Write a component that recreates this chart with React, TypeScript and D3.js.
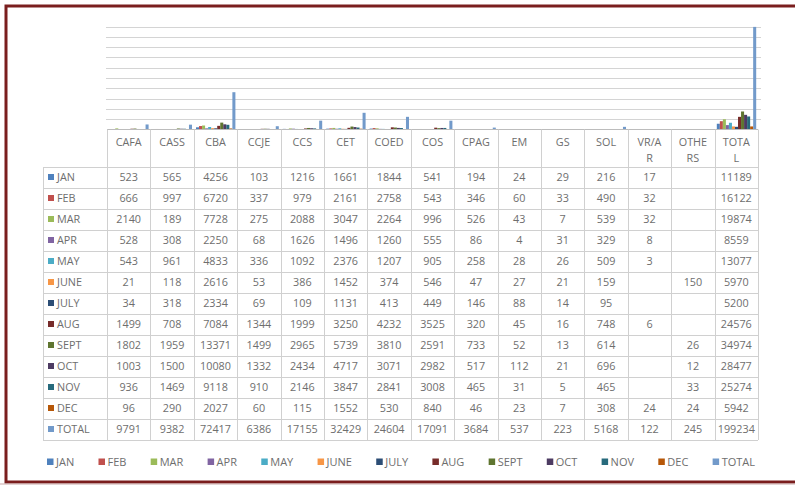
import React from "react";
import * as d3 from "d3";

const categories = ["CAFA", "CASS", "CBA", "CCJE", "CCS", "CET", "COED", "COS", "CPAG", "EM", "GS", "SOL", "VR/AR", "OTHERS", "TOTAL"];
const headerLabels = [["CAFA"], ["CASS"], ["CBA"], ["CCJE"], ["CCS"], ["CET"], ["COED"], ["COS"], ["CPAG"], ["EM"], ["GS"], ["SOL"], ["VR/A", "R"], ["OTHE", "RS"], ["TOTA", "L"]];

const seriesNames = ["JAN", "FEB", "MAR", "APR", "MAY", "JUNE", "JULY", "AUG", "SEPT", "OCT", "NOV", "DEC", "TOTAL"];
const seriesColors = ["#4F81BD", "#C0504D", "#9BBB59", "#8064A2", "#4BACC6", "#F79646", "#2C4D75", "#772C2A", "#5F7530", "#4D3B62", "#276A7C", "#B65708", "#729ACA"];

const jan = [523, 565, 4256, 103, 1216, 1661, 1844, 541, 194, 24, 29, 216, 17, null, 11189];
const feb = [666, 997, 6720, 337, 979, 2161, 2758, 543, 346, 60, 33, 490, 32, null, 16122];
const mar = [2140, 189, 7728, 275, 2088, 3047, 2264, 996, 526, 43, 7, 539, 32, null, 19874];
const apr = [528, 308, 2250, 68, 1626, 1496, 1260, 555, 86, 4, 31, 329, 8, null, 8559];
const may = [543, 961, 4833, 336, 1092, 2376, 1207, 905, 258, 28, 26, 509, 3, null, 13077];
const june = [21, 118, 2616, 53, 386, 1452, 374, 546, 47, 27, 21, 159, null, 150, 5970];
const july = [34, 318, 2334, 69, 109, 1131, 413, 449, 146, 88, 14, 95, null, null, 5200];
const aug = [1499, 708, 7084, 1344, 1999, 3250, 4232, 3525, 320, 45, 16, 748, 6, null, 24576];
const sept = [1802, 1959, 13371, 1499, 2965, 5739, 3810, 2591, 733, 52, 13, 614, null, 26, 34974];
const oct = [1003, 1500, 10080, 1332, 2434, 4717, 3071, 2982, 517, 112, 21, 696, null, 12, 28477];
const nov = [936, 1469, 9118, 910, 2146, 3847, 2841, 3008, 465, 31, 5, 465, null, 33, 25274];
const dec = [96, 290, 2027, 60, 115, 1552, 530, 840, 46, 23, 7, 308, 24, 24, 5942];
const total = [9791, 9382, 72417, 6386, 17155, 32429, 24604, 17091, 3684, 537, 223, 5168, 122, 245, 199234];

const yTicks = [0, 20000, 40000, 60000, 80000, 100000, 120000, 140000, 160000, 180000, 200000];

const seriesValues = [jan, feb, mar, apr, may, june, july, aug, sept, oct, nov, dec, total];
const series = seriesNames.map((name, i) => ({ name, color: seriesColors[i], values: seriesValues[i] }));

const W = 795;
const H = 485;
const FONT = "'Open Sans', sans-serif";
const TEXT = "#6e6e6e";
const GRID = "#d4d4d4";
const LINE = "#d0d0d0";

function measure(text: string, size: number) {
  const c = document.createElement("canvas").getContext("2d");
  if (!c) return text.length * size * 0.6;
  c.font = `${size}px 'Open Sans'`;
  return c.measureText(text).width;
}

export default function App() {
  const plotLeft = 107;
  const plotRight = 758;
  const plotTop = 26.5;
  const plotBottom = 129.5;
  const tableLeft = 43;
  const headerBottom = 167;
  const rowH = 21;
  const fontSize = 10.8;

  const x0 = d3.scaleBand<string>().domain(categories).range([plotLeft, plotRight]).paddingInner(0).paddingOuter(0);
  const bw = x0.bandwidth();
  const x1 = d3.scaleBand<string>().domain(seriesNames).range([2.2, bw - 1.8]).padding(0);
  const y = d3.scaleLinear().domain([0, 200000]).range([plotBottom, plotTop]);

  const tableBottom = headerBottom + rowH * series.length;

  // legend layout
  const legSize = 11;
  const widths = seriesNames.map((n) => measure(n, legSize));
  const legStart = 47;
  const legEnd = 755;
  const itemsW = widths.reduce((a, w) => a + w + 9, 0);
  const gap = (legEnd - legStart - itemsW) / (seriesNames.length - 1);
  let cur = legStart;
  const legendPos = widths.map((w) => {
    const p = cur;
    cur += w + 9 + gap;
    return p;
  });
  const legY = 462;

  return (
    <svg width={W} height={H} style={{ position: "absolute", left: 0, top: 0, background: "#fff" }} fontFamily={FONT}>
      <rect x={0} y={0} width={W} height={H} fill="#fff" />
      {/* gridlines */}
      {yTicks.slice(1).map((t) => (
        <line key={t} x1={plotLeft - 1} x2={plotRight + 3} y1={Math.round(y(t)) + 0.5} y2={Math.round(y(t)) + 0.5} stroke={GRID} strokeWidth={1} />
      ))}
      {/* bars */}
      {series.map((s) => (
        <g key={s.name} fill={s.color}>
          {categories.map((c, i) => {
            const v = s.values[i];
            if (v == null) return null;
            return <rect key={c} x={(x0(c) as number) + (x1(s.name) as number)} y={y(v)} width={x1.bandwidth()} height={plotBottom - y(v)} />;
          })}
        </g>
      ))}
      {/* axis line */}
      <line x1={plotLeft} x2={plotRight} y1={plotBottom} y2={plotBottom} stroke="#bcbcbc" strokeWidth={1} />
      {/* table grid */}
      {categories.map((c) => (
        <line key={c} x1={Math.round(x0(c) as number) + 0.5} x2={Math.round(x0(c) as number) + 0.5} y1={plotBottom} y2={tableBottom} stroke={LINE} />
      ))}
      <line x1={plotRight + 0.5} x2={plotRight + 0.5} y1={plotBottom} y2={tableBottom} stroke={LINE} />
      <line x1={tableLeft + 0.5} x2={tableLeft + 0.5} y1={headerBottom} y2={tableBottom} stroke={LINE} />
      {d3.range(series.length + 1).map((r) => (
        <line key={r} x1={tableLeft} x2={plotRight} y1={headerBottom + r * rowH + 0.5} y2={headerBottom + r * rowH + 0.5} stroke={LINE} />
      ))}
      {/* header labels */}
      {categories.map((c, i) =>
        headerLabels[i].map((ln, j) => (
          <text key={c + j} x={(x0(c) as number) + bw / 2} y={146 + j * 16} textAnchor="middle" fontSize={fontSize} fill={TEXT}>
            {ln}
          </text>
        ))
      )}
      {/* rows */}
      {series.map((s, r) => {
        const cy = headerBottom + r * rowH + rowH / 2;
        return (
          <g key={s.name}>
            <rect x={48} y={cy - 3.5} width={6} height={6} fill={s.color} />
            <text x={57} y={cy + 3.8} fontSize={fontSize} fill={TEXT}>
              {s.name}
            </text>
            {categories.map((c, i) =>
              s.values[i] == null ? null : (
                <text key={c} x={(x0(c) as number) + bw / 2} y={cy + 3.8} textAnchor="middle" fontSize={fontSize} fill={TEXT}>
                  {s.values[i]}
                </text>
              )
            )}
          </g>
        );
      })}
      {/* legend */}
      {series.map((s, i) => (
        <g key={s.name}>
          <rect x={legendPos[i]} y={legY - 3.5} width={6.5} height={6.5} fill={s.color} />
          <text x={legendPos[i] + 9} y={legY + 4} fontSize={legSize} fill={TEXT}>
            {s.name}
          </text>
        </g>
      ))}
      {/* frame */}
      <rect x={6} y={6} width={W + 4} height={476} fill="none" stroke="#7a1e1e" strokeWidth={3} />
      <line x1={0} x2={W} y1={484} y2={484} stroke="#c9a9a9" strokeWidth={1} />
    </svg>
  );
}
